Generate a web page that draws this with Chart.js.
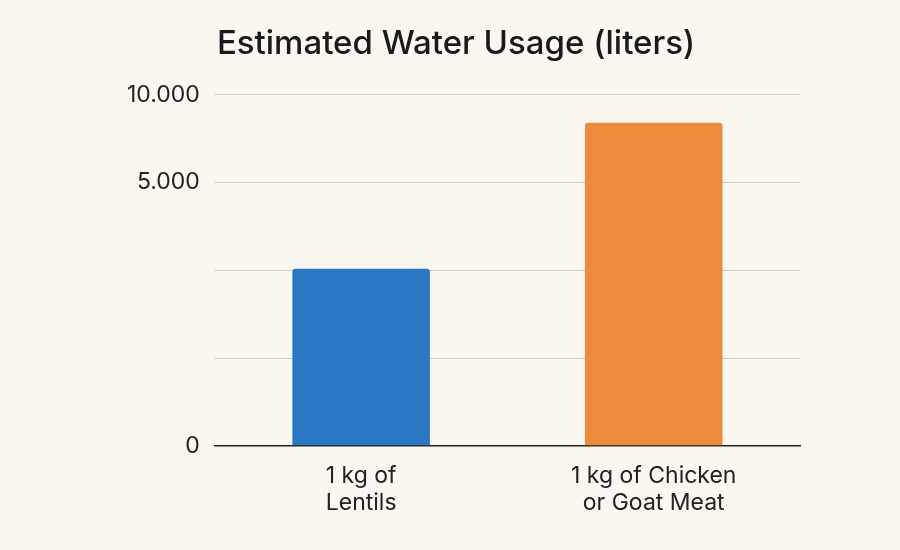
<!DOCTYPE html>
<html><head><meta charset="utf-8">
<script src="https://cdn.jsdelivr.net/npm/chart.js"></script>
<style>html,body{margin:0;background:#faf6f0;}#w{width:900px;height:550px;}</style>
</head><body><div id="w"><canvas id="c"></canvas></div>
<script>
const categories = [["1 kg of","Lentils"],["1 kg of Chicken","or Goat Meat"]];
const values = [5040, 9200];
const tickValues = [0, 2500, 5000, 7500, 10000];
const tickLabels = ["0", "", "", "5.000", "10.000"];
const colors = ["#2a78c3", "#ec8b3b"];
new Chart(document.getElementById('c'), {
  type: 'bar',
  data: { labels: categories, datasets: [{ data: values, backgroundColor: colors, borderRadius: 3, borderSkipped: 'bottom', barPercentage: 0.47, categoryPercentage: 1 }] },
  options: {
    responsive: true, maintainAspectRatio: false, animation: false,
    layout: { padding: { left: 112, right: 100, top: 10, bottom: 25 } },
    plugins: { legend: { display: false }, tooltip: { enabled: false },
      title: { display: true, text: 'Estimated Water Usage (liters)', color: '#1a1a1a', font: { family: 'Inter', size: 33, weight: '500' }, padding: { top: 14, bottom: 31 } } },
    scales: {
      x: { grid: { display: false }, border: { color: '#222', width: 1.5 },
           ticks: { color: '#222', font: { family: 'Inter', size: 23 }, padding: 8 } },
      y: { min: 0, max: 10000,
           afterBuildTicks: s => { s.ticks = tickValues.map(v => ({ value: v })); },
           grid: { color: '#cfcac3', drawTicks: false }, border: { display: false },
           ticks: { color: '#222', font: { family: 'Inter', size: 23 }, padding: 15,
                    callback: (v) => tickLabels[tickValues.indexOf(v)] } }
    }
  }
});
</script></body></html>
